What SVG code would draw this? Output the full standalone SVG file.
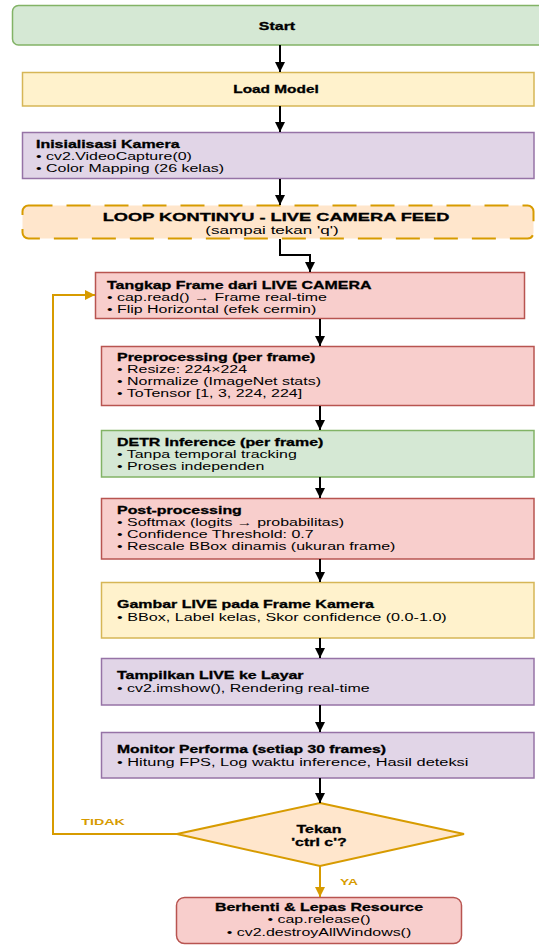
<svg xmlns="http://www.w3.org/2000/svg" width="539" height="945" viewBox="0 0 539 945">
  <defs>
    <marker id="ab" viewBox="0 0 10 10" refX="10" refY="5" markerWidth="10" markerHeight="10" markerUnits="userSpaceOnUse" orient="auto">
      <path d="M0,0 L10,5 L0,10 z" fill="#000"/>
    </marker>
    <marker id="ao" viewBox="0 0 10 10" refX="10" refY="5" markerWidth="10" markerHeight="10" markerUnits="userSpaceOnUse" orient="auto">
      <path d="M0,0 L10,5 L0,10 z" fill="#d79b00"/>
    </marker>
  </defs>
  <style>
    .t { font-family: "Liberation Sans", Arial, sans-serif; font-size: 11px; fill: #000; }
    .b { font-weight: bold; stroke: #000; stroke-width: 0.3; }
    .c { text-anchor: middle; }
    .green { fill: #d5e8d4; stroke: #82b366; stroke-width: 1.5; }
    .yellow { fill: #fff2cc; stroke: #d6b656; stroke-width: 1.5; }
    .purple { fill: #e1d5e7; stroke: #9673a6; stroke-width: 1.5; }
    .red { fill: #f8cecc; stroke: #b85450; stroke-width: 1.5; }
    .orange { fill: #ffe6cc; stroke: #d79b00; stroke-width: 2; }
    .lk { fill: none; stroke: #000; stroke-width: 2; marker-end: url(#ab); }
    .lo { fill: none; stroke: #d79b00; stroke-width: 2; marker-end: url(#ao); }
    .lbl { font-family: "Liberation Sans", Arial, sans-serif; font-weight: bold; font-size: 9.5px; fill: #d79b00; }
  </style>

  <g id="start">
    <rect class="green" x="12.5" y="5.5" width="540" height="39.5" rx="6"/>
    <text class="t b c" font-size="13" transform="translate(277,30) scale(1.45,1)">Start</text>
  </g>

  <g id="load-model">
    <rect class="yellow" x="22.5" y="72.5" width="511.5" height="33.5"/>
    <text class="t b c" transform="translate(276,93) scale(1.4,1)">Load Model</text>
  </g>

  <g id="init-camera">
    <rect class="purple" x="22.5" y="132.5" width="511.5" height="46"/>
    <text class="t b" transform="translate(36,148) scale(1.45,1)">Inisialisasi Kamera</text>
    <text class="t" transform="translate(36,160) scale(1.45,1)">• cv2.VideoCapture(0)</text>
    <text class="t" transform="translate(36,172) scale(1.45,1)">• Color Mapping (26 kelas)</text>
  </g>

  <g id="loop">
    <rect class="orange" x="22.5" y="205.5" width="511" height="33" rx="6" stroke-dasharray="24 14"/>
    <text class="t b c" font-size="12.5" transform="translate(276,221) scale(1.66,1)">LOOP KONTINYU - LIVE CAMERA FEED</text>
    <text class="t c" font-size="12" transform="translate(272,234) scale(1.55,1)">(sampai tekan 'q')</text>
  </g>

  <g id="capture">
    <rect class="red" x="95.5" y="272.5" width="429" height="46"/>
    <text class="t b" transform="translate(107,288.5) scale(1.45,1)">Tangkap Frame dari LIVE CAMERA</text>
    <text class="t" transform="translate(107,300.5) scale(1.45,1)">• cap.read() → Frame real-time</text>
    <text class="t" transform="translate(107,312.5) scale(1.45,1)">• Flip Horizontal (efek cermin)</text>
  </g>

  <g id="preprocessing">
    <rect class="red" x="101.5" y="346.5" width="432.5" height="59"/>
    <text class="t b" transform="translate(117,361) scale(1.45,1)">Preprocessing (per frame)</text>
    <text class="t" transform="translate(117,373) scale(1.45,1)">• Resize: 224×224</text>
    <text class="t" transform="translate(117,385) scale(1.45,1)">• Normalize (ImageNet stats)</text>
    <text class="t" transform="translate(117,397) scale(1.45,1)">• ToTensor [1, 3, 224, 224]</text>
  </g>

  <g id="detr">
    <rect class="green" x="101.5" y="430.5" width="432.5" height="46.5"/>
    <text class="t b" transform="translate(117,446) scale(1.45,1)">DETR Inference (per frame)</text>
    <text class="t" transform="translate(117,458) scale(1.45,1)">• Tanpa temporal tracking</text>
    <text class="t" transform="translate(117,470) scale(1.45,1)">• Proses independen</text>
  </g>

  <g id="postprocessing">
    <rect class="red" x="101.5" y="498.5" width="432.5" height="60.5"/>
    <text class="t b" transform="translate(117,514) scale(1.45,1)">Post-processing</text>
    <text class="t" transform="translate(117,526) scale(1.45,1)">• Softmax (logits → probabilitas)</text>
    <text class="t" transform="translate(117,538) scale(1.45,1)">• Confidence Threshold: 0.7</text>
    <text class="t" transform="translate(117,550) scale(1.45,1)">• Rescale BBox dinamis (ukuran frame)</text>
  </g>

  <g id="draw">
    <rect class="yellow" x="101.5" y="582.5" width="432.5" height="55.5"/>
    <text class="t b" transform="translate(117,607.5) scale(1.45,1)">Gambar LIVE pada Frame Kamera</text>
    <text class="t" transform="translate(117,620.5) scale(1.47,1)">• BBox, Label kelas, Skor confidence (0.0-1.0)</text>
  </g>

  <g id="display">
    <rect class="purple" x="101.5" y="658.5" width="432.5" height="46.5"/>
    <text class="t b" transform="translate(117,679) scale(1.45,1)">Tampilkan LIVE ke Layar</text>
    <text class="t" transform="translate(117,692) scale(1.45,1)">• cv2.imshow(), Rendering real-time</text>
  </g>

  <g id="monitor">
    <rect class="purple" x="101.5" y="732.5" width="432.5" height="45.5"/>
    <text class="t b" transform="translate(117,753) scale(1.43,1)">Monitor Performa (setiap 30 frames)</text>
    <text class="t" transform="translate(117,766) scale(1.49,1)">• Hitung FPS, Log waktu inference, Hasil deteksi</text>
  </g>

  <g id="decision">
    <polygon class="orange" points="320,803 464,834 320,866 177,834"/>
    <text class="t b c" font-size="13.5" transform="translate(319,832.5) scale(1.45,1)">Tekan</text>
    <text class="t b c" font-size="13.5" transform="translate(319,846) scale(1.45,1)">'ctrl c'?</text>
  </g>

  <g id="stop">
    <rect class="red" x="176.5" y="897.5" width="285" height="46" rx="8"/>
    <text class="t b c" transform="translate(319,910.5) scale(1.45,1)">Berhenti &amp; Lepas Resource</text>
    <text class="t c" transform="translate(319,923) scale(1.45,1)">• cap.release()</text>
    <text class="t c" transform="translate(319,935.5) scale(1.45,1)">• cv2.destroyAllWindows()</text>
  </g>

  <g id="connectors">
    <line class="lk" x1="280" y1="45" x2="280" y2="72"/>
    <line class="lk" x1="280" y1="106" x2="280" y2="132"/>
    <line class="lk" x1="280" y1="179" x2="280" y2="205"/>
    <path class="lk" d="M280,239 V255 H310 V272"/>
    <line class="lk" x1="320" y1="319" x2="320" y2="346"/>
    <line class="lk" x1="320" y1="406" x2="320" y2="430"/>
    <line class="lk" x1="320" y1="477" x2="320" y2="498"/>
    <line class="lk" x1="320" y1="559" x2="320" y2="582"/>
    <line class="lk" x1="320" y1="638" x2="320" y2="658"/>
    <line class="lk" x1="320" y1="705" x2="320" y2="732"/>
    <line class="lk" x1="320" y1="778" x2="320" y2="803"/>
    <path class="lo" d="M177,834 H53 V295 H95"/>
    <line class="lo" x1="320" y1="866" x2="320" y2="897"/>
    <text class="lbl" text-anchor="middle" transform="translate(103,825) scale(1.5,1)">TIDAK</text>
    <text class="lbl" text-anchor="middle" transform="translate(349,885) scale(1.45,1)">YA</text>
  </g>
</svg>
